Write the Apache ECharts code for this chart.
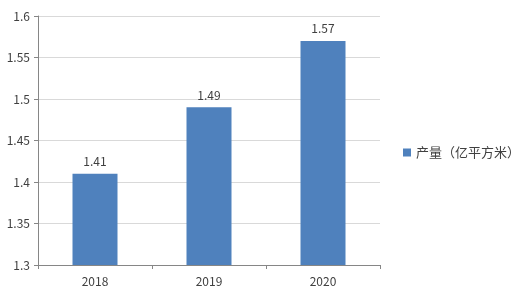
<!DOCTYPE html>
<html><head><meta charset="utf-8">
<script src="https://cdn.jsdelivr.net/npm/echarts@6/dist/echarts.min.js"></script>
<style>html,body{margin:0;padding:0;background:#fff}#c{width:521px;height:293px}</style>
</head><body><div id="c"></div>
<script>
const categories = ['2018', '2019', '2020'];
const values = [1.41, 1.49, 1.57];
const seriesName = '产量（亿平方米）';
const yTicks = { min: 1.3, max: 1.6, interval: 0.05 };

const chart = echarts.init(document.getElementById('c'), null, { renderer: 'canvas' });
const font = '"Microsoft YaHei","Noto Sans CJK SC","Liberation Sans",sans-serif';
chart.setOption({
  animation: false,
  backgroundColor: '#fff',
  grid: { left: 38, right: 141, top: 16, bottom: 28, containLabel: false },
  legend: {
    data: [seriesName], orient: 'vertical', left: 398, top: 141,
    itemWidth: 8, itemHeight: 8, itemGap: 4,
    icon: 'rect',
    textStyle: { fontSize: 13, color: '#404040', fontFamily: font }
  },
  xAxis: {
    type: 'category', data: categories,
    axisLine: { lineStyle: { color: '#868686' } },
    axisTick: { show: true, length: 4, lineStyle: { color: '#868686' } },
    axisLabel: { color: '#404040', fontSize: 12, margin: 10, fontFamily: font }
  },
  yAxis: {
    type: 'value', min: yTicks.min, max: yTicks.max, interval: yTicks.interval,
    axisLine: { show: true, lineStyle: { color: '#868686' } },
    axisTick: { show: true, length: 4, lineStyle: { color: '#868686' } },
    splitLine: { lineStyle: { color: '#d9d9d9' } },
    axisLabel: { color: '#404040', fontSize: 12, margin: 8, fontFamily: font,
      formatter: v => String(parseFloat(v.toFixed(2))) }
  },
  series: [{
    name: seriesName, type: 'bar', data: values, barWidth: 45,
    itemStyle: { color: '#4f81bd' },
    label: { show: true, position: 'top', distance: 6, color: '#404040', fontSize: 12, fontFamily: font }
  }]
});
</script></body></html>
